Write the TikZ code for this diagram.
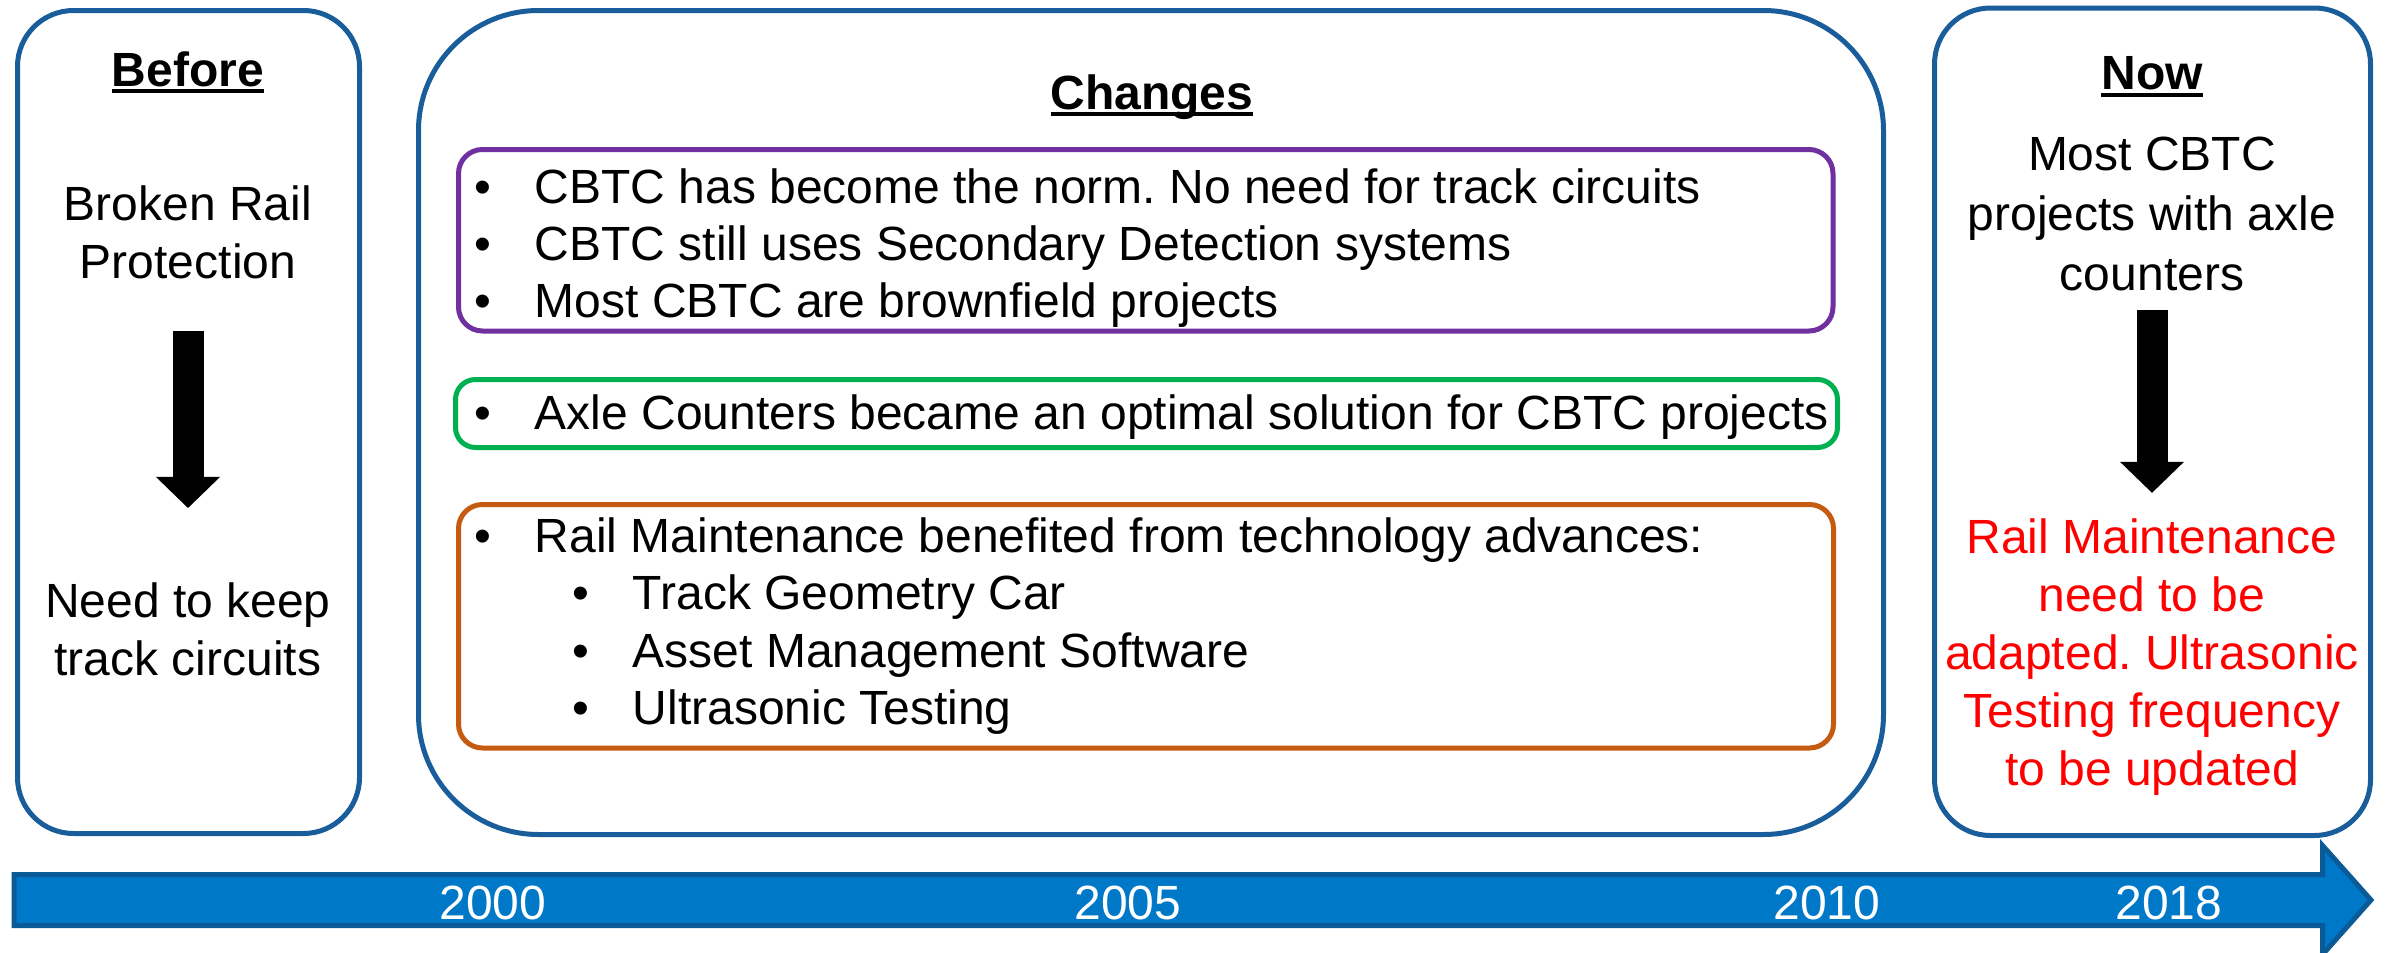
\documentclass[tikz,border=0pt]{standalone}
\usepackage{fontspec}
\setmainfont{Liberation Sans}
\usetikzlibrary{arrows.meta}
\frenchspacing
\definecolor{panelblue}{HTML}{1A5D9B}
\definecolor{barblue}{HTML}{0078C8}
\definecolor{bardark}{HTML}{0B5A98}
\definecolor{cbtcpurple}{HTML}{7030A0}
\definecolor{axlegreen}{HTML}{00B050}
\definecolor{maintorange}{HTML}{C55A11}
\newcommand{\hdrline}[1]{\setbox0\hbox{\bfseries #1}\rlap{\rule[-1.75pt]{\wd0}{0.9pt}}\box0}
\newcommand{\bulletbox}{\makebox[15pt][l]{\textbullet}}
\tikzset{
  panel/.style={draw=panelblue, line width=1.25pt},
  listbox/.style={line width=1.25pt, rounded corners=6pt},
  txt/.style={inner sep=0pt, font=\fontsize{12}{14.5}\selectfont, align=center},
  listline/.style={inner sep=0pt, anchor=base west, font=\fontsize{12}{14.5}\selectfont},
  year/.style={inner sep=0pt, text=white, font=\fontsize{12}{14.5}\selectfont},
  blockarrow/.style={line width=7.75pt, -{Triangle[length=7.75pt 0 0, width=16pt 0 0, line width=0pt]}},
}
\begin{document}
\begin{tikzpicture}[x=0.25pt,y=-0.25pt]
  \useasboundingbox (0,0) rectangle (2392,953);

  \draw[panel, rounded corners=14pt] (17.5,10.5) rectangle (359.5,833.5);
  \draw[panel, rounded corners=30pt] (418.5,10.5) rectangle (1883.5,834.5);
  \draw[panel, rounded corners=14pt] (1934.5,8) rectangle (2370.5,835.5);
  \draw[listbox, draw=cbtcpurple] (458.5,149.5) rectangle (1833,331);
  \draw[listbox, draw=axlegreen, rounded corners=5pt] (455.5,379.5) rectangle (1837.5,447.5);
  \draw[listbox, draw=maintorange] (458.5,504.5) rectangle (1833.5,748);

  \node[txt, anchor=base] (before) at (188,86) {\hdrline{Before}};
  \node[txt] (brp) at (188,232) {Broken Rail\\Protection};
  \node[txt] (keep) at (188,629) {Need to keep\\track circuits};
  \draw[blockarrow, shorten <=13pt, shorten >=18.4pt] (brp) -- (keep);

  \node[txt, anchor=base] (changes) at (1152,109) {\hdrline{Changes}};
  \node[listline] (c1) at (474,203) {\bulletbox CBTC has become the norm. No need for track circuits};
  \node[listline] (c2) at (474,260) {\bulletbox CBTC still uses Secondary Detection systems};
  \node[listline] (c3) at (474,317) {\bulletbox Most CBTC are brownfield projects};
  \node[listline] (a1) at (474,429) {\bulletbox Axle Counters became an optimal solution for CBTC projects};
  \node[listline] (r1) at (474,552) {\bulletbox Rail Maintenance benefited from technology advances:};
  \node[listline] (r2) at (572,609) {\bulletbox Track Geometry Car};
  \node[listline] (r3) at (572,667) {\bulletbox Asset Management Software};
  \node[listline] (r4) at (572,724) {\bulletbox Ultrasonic Testing};

  \node[txt, anchor=base] (now) at (2152,90) {\hdrline{Now}};
  \node[txt, font=\fontsize{12}{15.1}\selectfont] (most) at (2152,214) {Most CBTC\\projects with axle\\counters};
  \node[txt, text=red] (adapt) at (2152,657) {Rail Maintenance\\need to be\\adapted. Ultrasonic\\Testing frequency\\to be updated};
  \draw[blockarrow, shorten <=4.5pt, shorten >=6.25pt] (most) -- (adapt);

  \draw[draw=bardark, fill=barblue, line width=1.25pt] (14,874.5) -- (2322.5,874.5) -- (2322.5,845.5)
    -- (2371,900) -- (2322.5,954.5) -- (2322.5,925.5) -- (14,925.5) -- cycle;
  \node[year] (y2000) at (493,903) {2000};
  \node[year] (y2005) at (1128,903) {2005};
  \node[year] (y2010) at (1827,903) {2010};
  \node[year] (y2018) at (2169,903) {2018};
\end{tikzpicture}
\end{document}
